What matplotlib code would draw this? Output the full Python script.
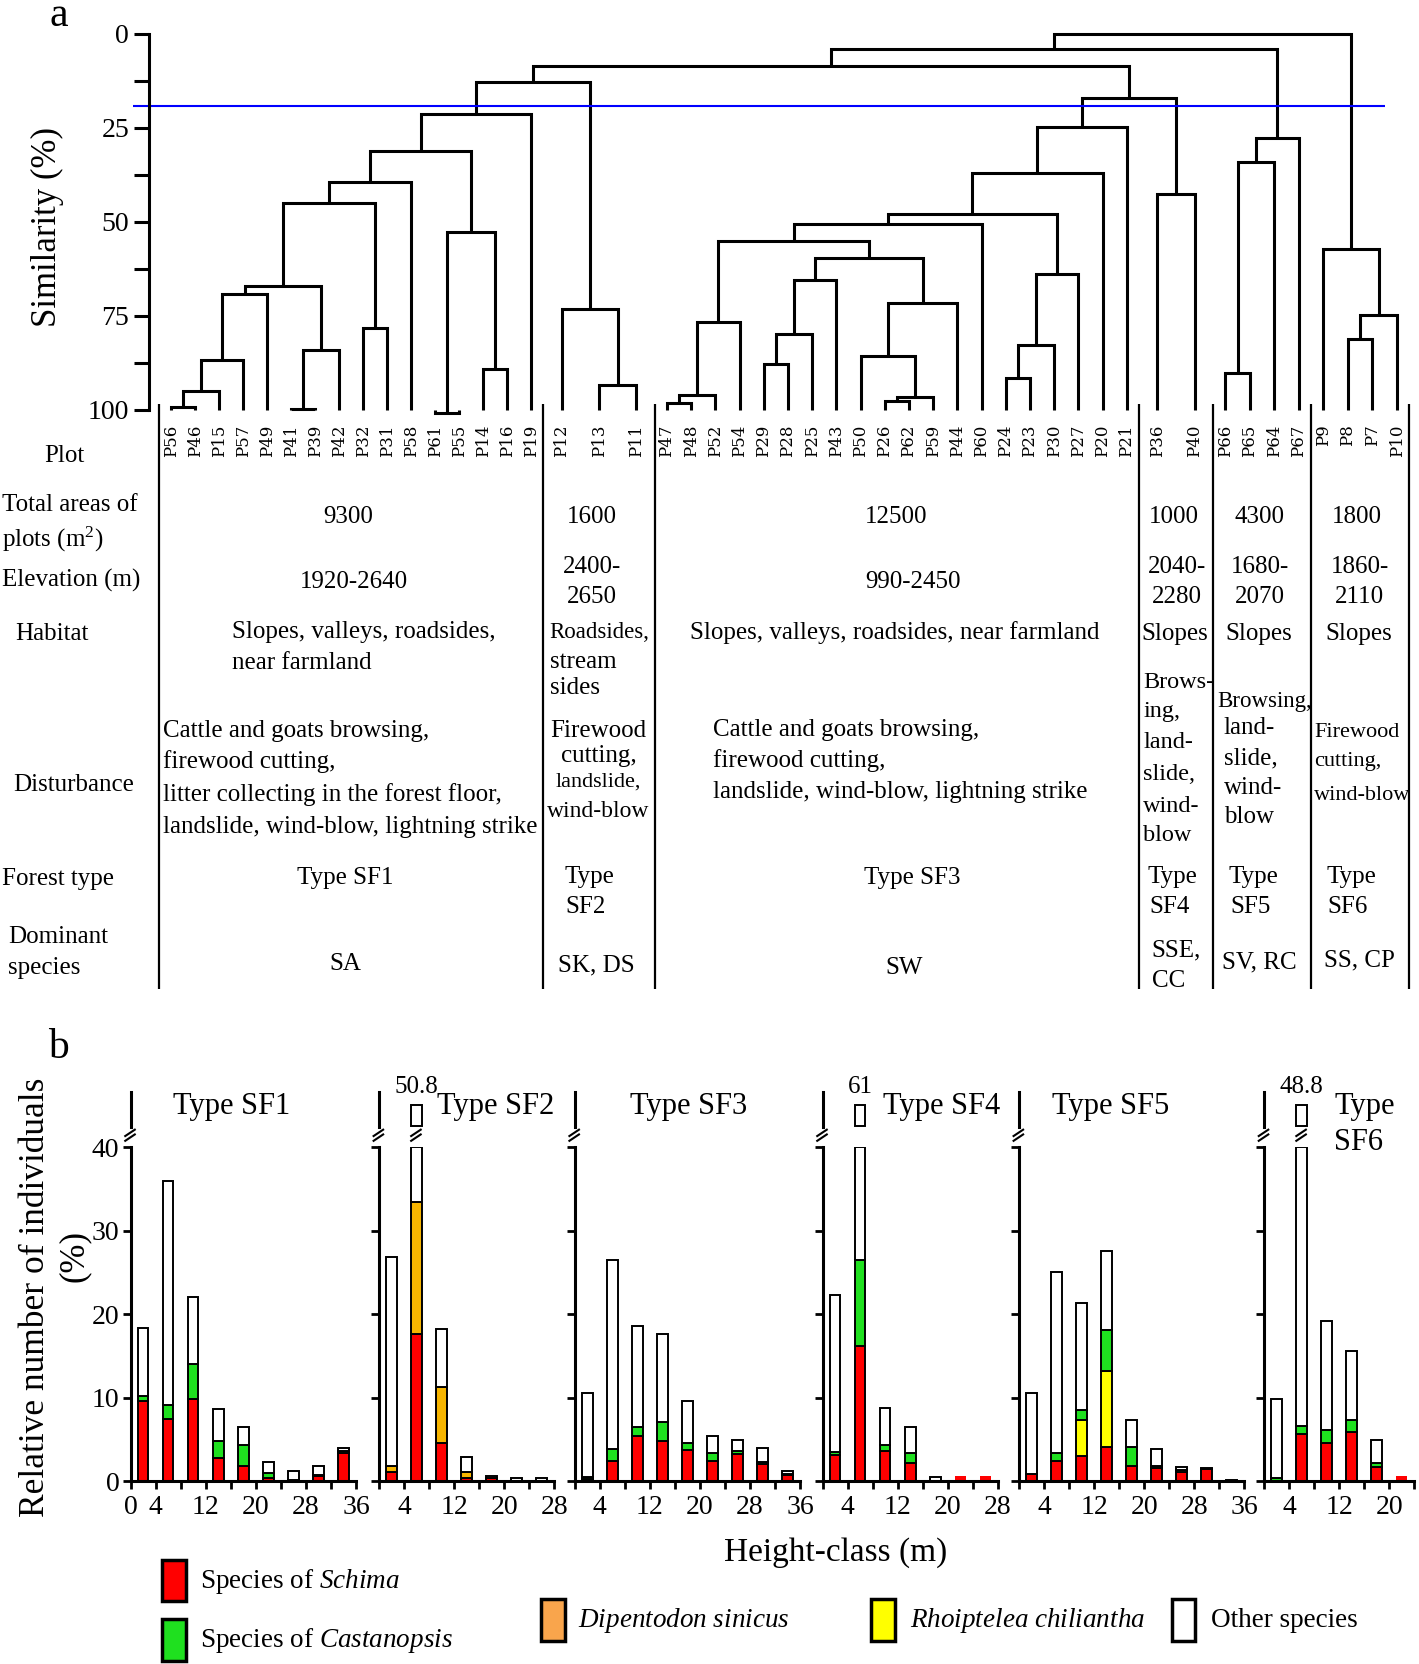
import numpy as np
import matplotlib.pyplot as plt
from matplotlib.patches import Rectangle

plt.rcParams['font.family'] = ['Liberation Serif', 'DejaVu Serif']
plt.rcParams['mathtext.fontset'] = 'custom'
plt.rcParams['mathtext.rm'] = 'Liberation Serif'
plt.rcParams['mathtext.it'] = 'Liberation Serif:italic'

# ---------------- data: panel a (dendrogram) ----------------
GROUPS = ['SF1', 'SF2', 'SF3', 'SF4', 'SF5', 'SF6']
leaves_sf1 = ['P56', 'P46', 'P15', 'P57', 'P49', 'P41', 'P39', 'P42', 'P32', 'P31',
              'P58', 'P61', 'P55', 'P14', 'P16', 'P19']
leaves_sf2 = ['P12', 'P13', 'P11']
leaves_sf3 = ['P47', 'P48', 'P52', 'P54', 'P29', 'P28', 'P25', 'P43', 'P50', 'P26',
              'P62', 'P59', 'P44', 'P60', 'P24', 'P23', 'P30', 'P27', 'P20', 'P21']
leaves_sf4 = ['P36', 'P40']
leaves_sf5 = ['P66', 'P65', 'P64', 'P67']
leaves_sf6 = ['P9', 'P8', 'P7', 'P10']

# (name, left child, right child, similarity %)
merges = [
    ('c1', 'P56', 'P46', 99.2), ('c2', 'c1', 'P15', 95.0), ('c3', 'c2', 'P57', 86.7),
    ('c4', 'c3', 'P49', 69.2), ('c5', 'P41', 'P39', 99.7), ('c6', 'c5', 'P42', 84.0),
    ('c7', 'c4', 'c6', 67.2), ('c8', 'P32', 'P31', 78.2), ('c9', 'c7', 'c8', 45.0),
    ('c10', 'c9', 'P58', 39.5), ('c11', 'P61', 'P55', 100.8), ('c12', 'P14', 'P16', 89.3),
    ('c13', 'c11', 'c12', 52.8), ('c14', 'c10', 'c13', 31.1), ('c15', 'c14', 'P19', 21.2),
    ('d1', 'P13', 'P11', 93.5), ('d2', 'P12', 'd1', 73.2), ('e1', 'c15', 'd2', 12.7),
    ('f1', 'P47', 'P48', 98.3), ('f2', 'f1', 'P52', 96.0), ('f3', 'f2', 'P54', 76.6),
    ('f4', 'P29', 'P28', 87.9), ('f5', 'f4', 'P25', 80.0), ('f6', 'f5', 'P43', 65.5),
    ('f7', 'P26', 'P62', 97.6), ('f8', 'f7', 'P59', 96.6), ('f9', 'P50', 'f8', 85.6),
    ('f10', 'f9', 'P44', 71.5), ('f11', 'f6', 'f10', 59.6), ('f12', 'f3', 'f11', 55.2),
    ('f13', 'f12', 'P60', 50.5), ('f14', 'P24', 'P23', 91.5), ('f15', 'f14', 'P30', 82.8),
    ('f16', 'f15', 'P27', 63.8), ('f17', 'f13', 'f16', 48.0), ('f18', 'f17', 'P20', 37.0),
    ('f19', 'f18', 'P21', 24.8), ('g1', 'P36', 'P40', 42.5), ('e2', 'f19', 'g1', 17.0),
    ('e3', 'e1', 'e2', 8.4), ('h1', 'P66', 'P65', 90.2), ('h2', 'h1', 'P64', 34.0),
    ('h3', 'h2', 'P67', 27.8), ('e4', 'e3', 'h3', 4.0), ('k1', 'P8', 'P7', 81.2),
    ('k2', 'k1', 'P10', 74.9), ('k3', 'P9', 'k2', 57.2), ('root', 'e4', 'k3', 0.0),
]
cut_level = 19.2

# ---------------- data: panel a (table) ----------------
areas = ['9300', '1600', '12500', '1000', '4300', '1800']
forest_types = ['Type SF1', 'Type\nSF2', 'Type SF3', 'Type\nSF4', 'Type\nSF5', 'Type\nSF6']

# ---------------- data: panel b (stacked bars, % of individuals) ----------------
schima = [[9.6, 7.5, 9.9, 2.8, 1.8, 0.4, 0.1, 0.6, 3.4],
          [1.1, 17.7, 4.6, 0.4, 0.4, 0.1, 0.1],
          [0.3, 2.5, 5.4, 4.9, 3.8, 2.5, 3.3, 2.1, 0.8],
          [3.2, 16.2, 3.7, 2.2, 0.0, 0.7, 0.7],
          [0.9, 2.5, 3.1, 4.1, 1.8, 1.6, 1.1, 1.5, 0.0],
          [0.1, 5.7, 4.6, 5.9, 1.7, 0.6]]
dipentodon = [[0, 0, 0, 0, 0, 0, 0, 0, 0],
              [0.8, 15.8, 6.7, 0.7, 0, 0, 0],
              [0, 0, 0, 0, 0, 0, 0, 0, 0],
              [0, 0, 0, 0, 0, 0, 0],
              [0, 0, 0, 0, 0, 0, 0, 0, 0],
              [0, 0, 0, 0, 0, 0]]
rhoiptelea = [[0, 0, 0, 0, 0, 0, 0, 0, 0],
              [0, 0, 0, 0, 0, 0, 0],
              [0, 0, 0, 0, 0, 0, 0, 0, 0],
              [0, 0, 0, 0, 0, 0, 0],
              [0, 0, 4.2, 9.1, 0, 0, 0.3, 0, 0],
              [0, 0, 0, 0, 0, 0]]
castanopsis = [[0.6, 1.7, 4.2, 2.1, 2.6, 0.6, 0.1, 0.2, 0.2],
               [0, 0, 0, 0, 0, 0, 0],
               [0.2, 1.4, 1.1, 2.2, 0.8, 0.9, 0.3, 0.2, 0.1],
               [0.3, 10.3, 0.7, 1.2, 0, 0, 0],
               [0, 0.9, 1.3, 4.9, 2.3, 0.3, 0, 0, 0],
               [0.3, 0.9, 1.6, 1.5, 0.5, 0]]
others = [[8.2, 26.7, 8.0, 3.75, 2.1, 1.3, 1.0, 1.0, 0.4],
          [25.0, 17.3, 6.9, 1.8, 0.3, 0.3, 0.3],
          [10.1, 22.6, 12.1, 10.5, 5.05, 2.1, 1.4, 1.7, 0.3],
          [18.8, 34.5, 4.4, 3.1, 0.5, 0, 0],
          [9.7, 21.7, 12.8, 9.5, 3.3, 2.0, 0.3, 0.1, 0.2],
          [9.5, 42.2, 13.0, 8.2, 2.8, 0]]
height_max = [36, 28, 36, 28, 36, 24]
tick_labels = [[0, 4, 12, 20, 28, 36], [4, 12, 20, 28], [4, 12, 20, 28, 36],
               [4, 12, 20, 28], [4, 12, 20, 28, 36], [4, 12, 20]]
species_labels = ['Species of $\\mathit{Schima}$', 'Species of $\\mathit{Castanopsis}$',
                  '$\\mathit{Dipentodon\\ sinicus}$', '$\\mathit{Rhoiptelea\\ chiliantha}$',
                  'Other species']

RED, ORANGE, YELLOW, GREEN = '#ff0000', '#f7b500', '#ffff00', '#1fe01f'

# ---------------- layout helpers (reference pixel units) ----------------
W, H = 1337, 1568
fig = plt.figure(figsize=(14.19, 16.64), dpi=100)


def rect(x0, y0, x1, y1):
    return [x0 / W, 1 - y1 / H, (x1 - x0) / W, (y1 - y0) / H]


ov = fig.add_axes([0, 0, 1, 1])
ov.set_xlim(0, W)
ov.set_ylim(H, 0)
ov.axis('off')


def txt(x, y, s, size=18, ha='center', **kw):
    ov.text(x, y, s, fontsize=size, ha=ha, va='center', **kw)


# ================= panel a =================
txt(55, 15, 'a', size=30)
bounds = [150, 512, 617, 1073, 1143, 1235, 1328]
groups = [leaves_sf1, leaves_sf2, leaves_sf3, leaves_sf4, leaves_sf5, leaves_sf6]
pos = {}
for g, lv in enumerate(groups):
    step = (bounds[g + 1] - bounds[g]) / len(lv)
    for j, name in enumerate(lv):
        pos[name] = (bounds[g] + (j + 0.5) * step, 100.0)

dax = fig.add_axes(rect(140, 32 - 3.54, 1337, 386 + 2 * 3.54))
dax.set_xlim(140, 1337)
dax.set_ylim(102, -1)
dax.patch.set_alpha(0)
for name, a, b, h in merges:
    xa, ha_ = pos[a]
    xb, hb = pos[b]
    dax.plot([xa, xa, xb, xb], [ha_, h, h, hb], color='black', lw=2.2,
             solid_capstyle='butt', solid_joinstyle='miter')
    pos[name] = ((xa + xb) / 2, h)
dax.hlines(cut_level, 125, 1305, color='#0000ff', lw=1.5, clip_on=False)
for s in ['top', 'right', 'bottom']:
    dax.spines[s].set_visible(False)
dax.spines['left'].set_linewidth(2.2)
dax.spines['left'].set_bounds(0, 100)
dax.set_xticks([])
dax.set_yticks([0, 25, 50, 75, 100])
dax.set_yticks([12.5, 37.5, 62.5, 87.5], minor=True)
dax.tick_params(axis='y', which='both', length=11, width=2.2, direction='out',
                labelsize=20, pad=3)
txt(45, 214, 'Similarity (%)', size=25, rotation=90)

for g, lv in enumerate(groups):
    for name in lv:
        ov.text(pos[name][0], 400, name, rotation=90, ha='center', va='top',
                fontsize=12, family='DejaVu Serif')
ov.vlines(bounds, 381, 932, color='black', lw=1.6)

# row labels
txt(61, 430, 'Plot')
txt(2, 476, 'Total areas of', ha='left')
txt(2, 508, 'plots (m$^2$)', ha='left')
txt(2, 547, 'Elevation (m)', ha='left')
txt(14, 597, 'Habitat', ha='left')
txt(12, 740, 'Disturbance', ha='left')
txt(2, 828, 'Forest type', ha='left')
txt(8, 883, 'Dominant', ha='left')
txt(8, 912, 'species', ha='left')

# areas
for x, s in zip([328, 558, 844, 1106, 1187, 1278], areas):
    txt(x, 487, s)

# elevation
txt(333, 548, '1920-2640')
txt(860, 548, '990-2450')
for x, (l1, l2) in zip([558, 1109, 1187, 1281],
                       [('2400-', '2650'), ('2040-', '2280'), ('1680-', '2070'), ('1860-', '2110')]):
    txt(x, 534, l1)
    txt(x, 563, l2)

# habitat
txt(219, 596, 'Slopes, valleys, roadsides,', ha='left')
txt(219, 625, 'near farmland', ha='left')
txt(518, 596, 'Roadsides,', ha='left', size=16.5)
txt(518, 624, 'stream', ha='left')
txt(518, 648, 'sides', ha='left')
txt(843, 596, 'Slopes, valleys, roadsides, near farmland')
for x in [1107, 1186, 1280]:
    txt(x, 597, 'Slopes')

# disturbance
for y, s in zip([689, 718, 749, 779],
                ['Cattle and goats browsing,', 'firewood cutting,',
                 'litter collecting in the forest floor,',
                 'landslide, wind-blow, lightning strike']):
    txt(154, y, s, ha='left')
for y, s, fs in zip([689, 712, 737, 765], ['Firewood', 'cutting,', 'landslide,', 'wind-blow'],
                    [18, 18, 16, 17]):
    txt(564, y, s, size=fs)
for y, s in zip([688, 717, 746], ['Cattle and goats browsing,', 'firewood cutting,',
                                  'landslide, wind-blow, lightning strike']):
    txt(672, y, s, ha='left')
for y, s in zip([643, 670, 700, 730, 760, 787], ['Brows-', 'ing,', 'land-', 'slide,', 'wind-', 'blow']):
    txt(1077, y, s, ha='left', size=17.5)
for y, s in zip([661, 686, 715, 743, 770], ['Browsing,', 'land-', 'slide,', 'wind-', 'blow']):
    txt(1147 if s == 'Browsing,' else 1153, y, s, ha='left', size=16.5 if s == 'Browsing,' else 18)
for y, s in zip([690, 718, 750], ['Firewood', 'cutting,', 'wind-blow']):
    txt(1238, y, s, ha='left', size=16)

# forest type
for x, s in zip([325, 555, 860, 1105, 1181, 1273], forest_types):
    parts = s.split('\n')
    if len(parts) == 1:
        txt(x, 827, s)
    else:
        txt(x, 826, parts[0])
        txt(x - 3, 855, parts[1])

# dominant species
txt(325, 908, 'SA')
txt(562, 910, 'SK, DS')
txt(852, 912, 'SW')
txt(1108, 896, 'SSE,')
txt(1101, 924, 'CC')
txt(1187, 907, 'SV, RC')
txt(1281, 905, 'SS, CP')

# ================= panel b =================
txt(55, 987, 'b', size=30)
PXM = 5.9          # reference px per metre
Y0, Y40 = 1396, 1081
panel_x0 = [123, 357, 541.5, 775, 960, 1191]
break_on_bar = [False, True, False, False, False, True]
BW = 1.7

for i, t in enumerate(GROUPS):
    x0 = panel_x0[i]
    x1 = x0 + height_max[i] * PXM
    ax = fig.add_axes(rect(x0, Y40, x1, Y0))
    ax.patch.set_alpha(0)
    n = len(schima[i])
    xs = 2 + 4 * np.arange(n)
    segs = [np.array(schima[i]), np.array(dipentodon[i]), np.array(rhoiptelea[i]),
            np.array(castanopsis[i]), np.array(others[i])]
    total = sum(segs)
    lone = total == segs[0]
    bottom = np.zeros(n)
    for v, col in zip(segs, [RED, ORANGE, YELLOW, GREEN, 'white']):
        top = np.minimum(bottom + v, 40)
        h = np.clip(top - bottom, 0, None)
        m = (v > 0) & ~lone
        ax.bar(xs[m], h[m], BW, bottom=bottom[m], color=col, edgecolor='black',
               lw=1.4, zorder=2)
        m2 = (v > 0) & lone
        ax.bar(xs[m2], h[m2], BW, bottom=bottom[m2], color=col, edgecolor='none', zorder=2)
        bottom = bottom + v
    ax.set_xlim(0, height_max[i])
    ax.set_ylim(0, 40)
    for s in ['top', 'right']:
        ax.spines[s].set_visible(False)
    for s in ['left', 'bottom']:
        ax.spines[s].set_linewidth(2.2)
    ticks = list(range(0, height_max[i] + 1, 4))
    ax.set_xticks(ticks)
    ax.set_xticklabels([str(k) if k in tick_labels[i] else '' for k in ticks])
    ax.set_yticks([0, 10, 20, 30, 40])
    if i == 0:
        ax.tick_params(axis='y', labelsize=20, pad=2)
    else:
        ax.set_yticklabels([])
    ax.tick_params(axis='both', length=6, width=2, direction='out')
    ax.tick_params(axis='x', labelsize=20, pad=4)

    # broken upper part
    up = fig.add_axes(rect(x0, 1029, x1, 1062))
    up.patch.set_alpha(0)
    for s in ['top', 'right', 'bottom']:
        up.spines[s].set_visible(False)
    up.spines['left'].set_linewidth(2.2)
    up.set_xticks([])
    up.set_yticks([])
    up.set_xlim(0, height_max[i])
    tall = np.where(total > 40)[0]
    breaks_x = [x0]
    if len(tall):
        k = tall[0]
        v = total[k]
        up.set_ylim(v - 2.6, v + 1.6)
        up.bar(xs[k], 2.45, BW, bottom=v - 2.45, color='white', edgecolor='black', lw=1.4)
        up.annotate(f'{v:g}', (xs[k], v), xytext=(0, 5), textcoords='offset points',
                    ha='center', va='bottom', fontsize=18)
        if break_on_bar[i]:
            breaks_x.append(x0 + xs[k] * PXM)
    for bx in breaks_x:
        for dy in (0, 4.5):
            ov.plot([bx - 5, bx + 4], [1075 + dy - 4.5, 1069 + dy - 4.5], color='black', lw=1.5)

# panel titles
txt(163, 1043, 'Type SF1', ha='left', size=22)
txt(412, 1043, 'Type SF2', ha='left', size=22)
txt(594, 1043, 'Type SF3', ha='left', size=22)
txt(832, 1043, 'Type SF4', ha='left', size=22)
txt(991, 1043, 'Type SF5', ha='left', size=22)
txt(1257, 1043, 'Type', ha='left', size=22)
txt(1257, 1077, 'SF6', ha='left', size=22)

txt(33, 1222, 'Relative number of individuals', size=25.5, rotation=90)
txt(70, 1184, '(%)', size=25, rotation=90)
txt(787, 1463, 'Height-class (m)', size=24)

# legend
legend_boxes = [(153, 1470, RED), (153, 1526, GREEN), (510, 1507, '#f9a54c'),
                (821, 1507, YELLOW), (1104, 1507, 'white')]
legend_text_x = [188, 188, 545, 857, 1141]
for (bx, by, col), tx, lab in zip(legend_boxes, legend_text_x, species_labels):
    ov.add_patch(Rectangle((bx, by), 22, 39, facecolor=col, edgecolor='black', lw=2.5))
    txt(tx, by + 20, lab, ha='left', size=19.5)

fig.savefig('out.png', dpi=100)
